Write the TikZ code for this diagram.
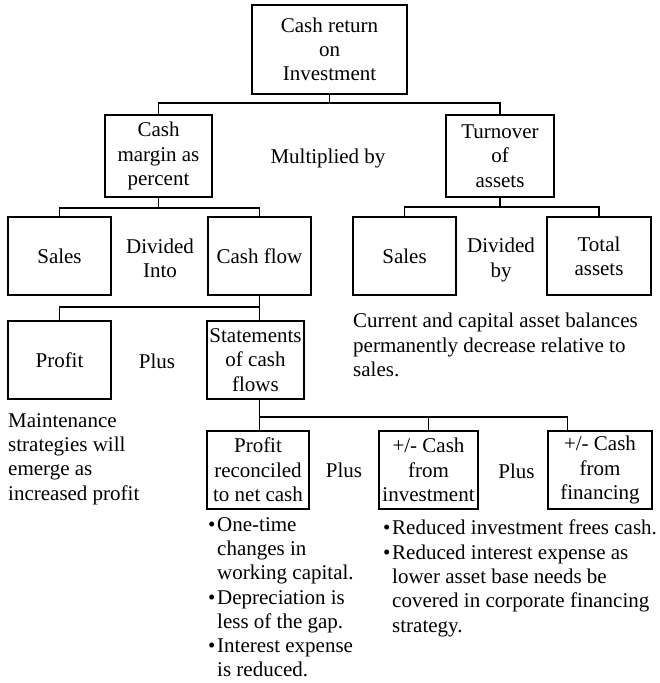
\documentclass[tikz,border=0pt]{standalone}
\usepackage{fontspec}
\setmainfont{Liberation Serif}
% bullet with a fixed-width slot, and the matching indent for continuation lines
\newcommand\itemmark{\makebox[9pt][l]{\textbullet}}
\newcommand\itemgap{\hspace*{9pt}}
\begin{document}
\begin{tikzpicture}[x=1pt,y=-1pt,
  every node/.style={font=\fontsize{21}{24.3}\selectfont, inner sep=0pt},
  box/.style={draw, line width=1.3pt, align=center, minimum width=#1, minimum height=78pt},
  conn/.style={line width=1.3pt, line join=miter},
  note/.style={anchor=north west, align=left}]
\useasboundingbox (0,0) rectangle (659,683);

% ---- boxes
\node[box=155pt, minimum height=89pt] (roi) at (329.5,49.5) {Cash return\\on\\Investment};
\node[box=107pt, minimum height=82pt] (margin) at (158.5,156) {Cash\\margin as\\percent};
\node[box=108pt, minimum height=82pt] (turnover) at (500,156) {Turnover\\of\\assets};
\node[box=103pt] (salesA) at (59.5,256) {Sales};
\node[box=103pt] (cashflow) at (259.5,256) {Cash flow};
\node[box=103pt] (salesB) at (404.5,256) {Sales};
\node[box=104pt] (total) at (599,256) {Total\\assets};
\node[box=103pt] (profit) at (59.5,360) {Profit};
\node[box=97pt] (stmt) at (255.5,360) {Statements\\of cash\\flows};
\node[box=102pt] (recon) at (258,470) {Profit\\reconciled\\to net cash};
\node[box=99pt] (invest) at (428.5,470) {+/- Cash\\from\\investment};
\node[box=104pt] (financing) at (600,470) {+/- Cash\\from\\financing};

% ---- operators between siblings
\node (mult) at (328,158) {Multiplied by};
\node[align=center] (divA) at (160,258) {Divided\\Into};
\node[align=center] (divB) at (501,260) {Divided\\by};
\node (plusA) at (157,361.5) {Plus};
\node (plusB) at (344,470) {Plus};
\node (plusC) at (516.5,471.5) {Plus};

% ---- notes
\node[note] (assetnote) at (353,313) {Current and capital asset balances\\permanently decrease relative to\\sales.};
\node[note] (maintnote) at (8,413) {Maintenance\\strategies will\\emerge as\\increased profit};
\node[note] (reconnote) at (208,517) {\itemmark One-time\\\itemgap changes in\\\itemgap working capital.\\\itemmark Depreciation is\\\itemgap less of the gap.\\\itemmark Interest expense\\\itemgap is reduced.};
\node[note] (investnote) at (383,520) {\itemmark Reduced investment frees cash.\\\itemmark Reduced interest expense as\\\itemgap lower asset base needs be\\\itemgap covered in corporate financing\\\itemgap strategy.};

% ---- tree connectors
\coordinate (busA) at (329.5,103);
\draw[conn] (roi.south) -- (busA);
\draw[conn] (margin.north) |- (busA) -| (turnover.north);

\coordinate (busB) at (158.5,208);
\draw[conn] (margin.south) -- (busB);
\draw[conn] (salesA.north) |- (busB) -| (cashflow.north);

\coordinate (busC) at (500,207);
\draw[conn] (turnover.south) -- (busC);
\draw[conn] (salesB.north) |- (busC) -| (total.north);

\coordinate (busD) at (259.5,307);
\draw[conn] (cashflow.south) -- (busD);
\draw[conn] (profit.north) |- (busD) -- (busD |- stmt.north);

\coordinate (busE) at (259.5,417);
\draw[conn] (busE |- stmt.south) -- (busE) -- (busE |- recon.north);
\draw[conn] (busE) -| ([xshift=20pt]financing.north west);
\draw[conn] (invest.north) -- (invest.north |- busE);
\end{tikzpicture}
\end{document}
